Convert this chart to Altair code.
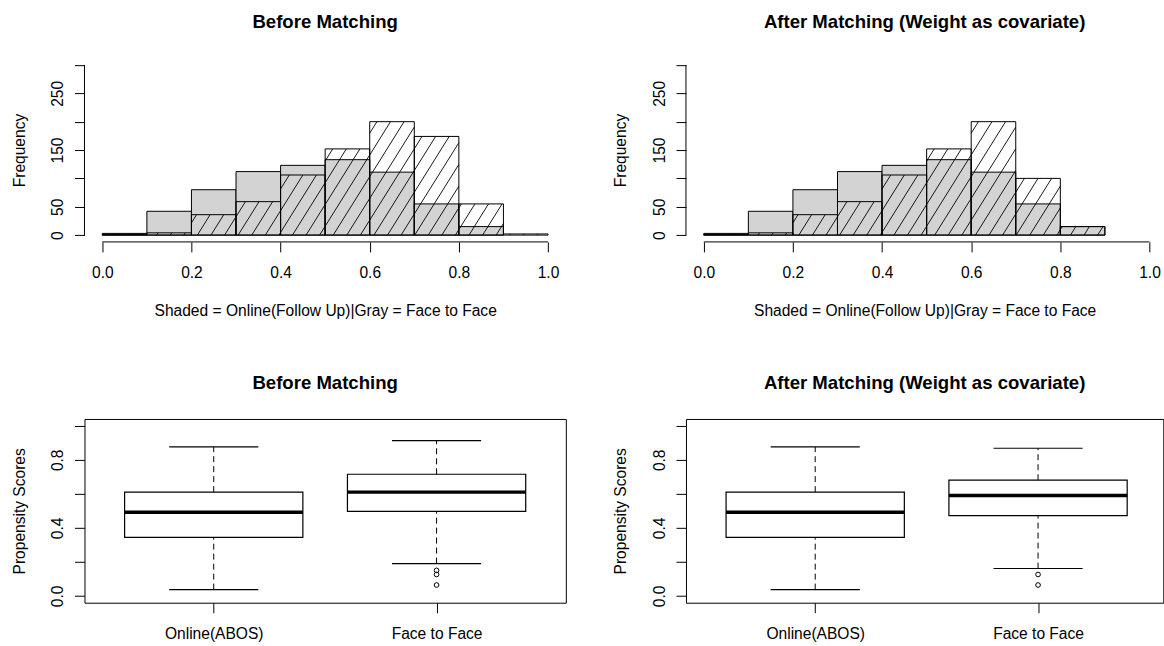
import numpy as np
import pandas as pd
import altair as alt

FONT = "Liberation Sans"

# ---------------- data ----------------
BIN_EDGES = [0.0, 0.1, 0.2, 0.3, 0.4, 0.5, 0.6, 0.7, 0.8, 0.9, 1.0]
GRAY_BEFORE = [3, 42, 80, 112, 123, 133, 111, 55, 15]
HATCH_BEFORE = [1, 4, 36, 59, 106, 152, 200, 174, 55, 2]
GRAY_AFTER = [3, 42, 80, 112, 123, 133, 111, 55, 15]
HATCH_AFTER = [1, 4, 36, 59, 106, 152, 200, 100, 15]

HIST_X_TICKS = [0.0, 0.2, 0.4, 0.6, 0.8, 1.0]
HIST_Y_TICKS = [0, 50, 100, 150, 200, 250, 300]
HIST_Y_LABELED = [0, 50, 150, 250]

GROUPS = ["Online(ABOS)", "Face to Face"]
# lower whisker, Q1, median, Q3, upper whisker
BOX_BEFORE_ONLINE = [0.037, 0.344, 0.491, 0.610, 0.876]
BOX_BEFORE_F2F = [0.190, 0.497, 0.610, 0.715, 0.913]
OUT_BEFORE_F2F = [0.150, 0.126, 0.064]
BOX_AFTER_ONLINE = [0.037, 0.344, 0.491, 0.610, 0.876]
BOX_AFTER_F2F = [0.161, 0.472, 0.590, 0.680, 0.868]
OUT_AFTER_F2F = [0.126, 0.064]

BOX_Y_TICKS = [0.0, 0.2, 0.4, 0.6, 0.8, 1.0]

# ---------------- layout / style constants ----------------
PANEL_W = 482
PANEL_W_RIGHT = 478
PANEL_H = 184
HIST_X_LO, HIST_X_HI = -0.04, 1.04
HIST_Y_LO, HIST_Y_HI = -12, 312
BOX_X_LO, BOX_X_HI = 0.42, 2.58
BOX_Y_LO, BOX_Y_HI = -0.04, 1.04
PX_X = PANEL_W / (HIST_X_HI - HIST_X_LO)
PX_Y = PANEL_H / (HIST_Y_HI - HIST_Y_LO)
BOX_PX_X = PANEL_W / (BOX_X_HI - BOX_X_LO)
HATCH_SLOPE = 1.6
HATCH_STEP = 13.6
GRAY = "#d3d3d3"
FS = 15.6
TITLE_FS = 18.6


def hatch_segments(lefts, rights, counts):
    rows = []
    S = HATCH_SLOPE
    for x0, x1, h in zip(lefts, rights, counts):
        if h <= 0:
            continue
        u0 = (x0 - HIST_X_LO) * PX_X
        u1 = (x1 - HIST_X_LO) * PX_X
        v0 = (0 - HIST_Y_LO) * PX_Y
        v1 = (h - HIST_Y_LO) * PX_Y
        kmin = int(np.floor((u0 - v1 / S) / HATCH_STEP)) - 1
        kmax = int(np.ceil((u1 - v0 / S) / HATCH_STEP)) + 1
        for k in range(kmin, kmax + 1):
            c = k * HATCH_STEP
            va = max(v0, (u0 - c) * S)
            vb = min(v1, (u1 - c) * S)
            if vb - va > 0.3:
                rows.append({
                    "x": (c + va / S) / PX_X + HIST_X_LO,
                    "y": va / PX_Y + HIST_Y_LO,
                    "x2": (c + vb / S) / PX_X + HIST_X_LO,
                    "y2": vb / PX_Y + HIST_Y_LO,
                })
    return pd.DataFrame(rows)


def title_params(text):
    return alt.TitleParams(text=text, anchor="middle", frame="group", baseline="alphabetic",
                           offset=11.5, fontSize=TITLE_FS, fontWeight="bold", font=FONT,
                           color="black")


def hist_panel(title, gray, hatch, width):
    x_hi = HIST_X_LO + width / PX_X
    xs = alt.Scale(domain=[HIST_X_LO, x_hi], nice=False, zero=False)
    ys = alt.Scale(domain=[HIST_Y_LO, HIST_Y_HI], nice=False, zero=False)
    xaxis = alt.Axis(values=HIST_X_TICKS, format=".1f",
                     title="Shaded = Online(Follow Up)|Gray = Face to Face",
                     domain=False, grid=False, tickSize=10, tickColor="black", tickWidth=1,
                     labelPadding=25.5, labelBaseline="alphabetic", labelFlush=False,
                     labelOverlap=False, titleBaseline="alphabetic", titleY=73.4,
                     titleFontWeight="normal")
    labeled = ",".join(str(v) for v in HIST_Y_LABELED)
    yaxis = alt.Axis(values=HIST_Y_TICKS, title="Frequency",
                     labelExpr=f"indexof([{labeled}], datum.value) >= 0 ? datum.label : ''",
                     domain=False, grid=False, tickSize=10, tickColor="black", tickWidth=1,
                     labelAngle=270, labelAlign="center", labelBaseline="alphabetic",
                     labelPadding=11.85, labelOverlap=False, labelFlush=False,
                     titleAngle=270, titleAlign="center", titleBaseline="alphabetic",
                     titleX=-60.3, titleY=PANEL_H / 2, titleFontWeight="normal")

    n_g = len(gray)
    n_h = len(hatch)
    gdf = pd.DataFrame({"left": BIN_EDGES[:n_g], "right": BIN_EDGES[1:n_g + 1],
                        "count": gray, "base": [0] * n_g})
    hdf = pd.DataFrame({"left": BIN_EDGES[:n_h], "right": BIN_EDGES[1:n_h + 1],
                        "count": hatch, "base": [0] * n_h})
    sdf = hatch_segments(hdf["left"], hdf["right"], hdf["count"])
    xline = pd.DataFrame({"x": [HIST_X_TICKS[0]], "x2": [HIST_X_TICKS[-1]], "y": [HIST_Y_LO]})
    yline = pd.DataFrame({"x": [HIST_X_LO], "y": [HIST_Y_TICKS[0]], "y2": [HIST_Y_TICKS[-1]]})

    gray_bars = alt.Chart(gdf).mark_rect(fill=GRAY, stroke="black", strokeWidth=1).encode(
        x=alt.X("left:Q", scale=xs, axis=xaxis), x2="right:Q",
        y=alt.Y("count:Q", scale=ys, axis=yaxis), y2="base:Q")
    hatch_lines = alt.Chart(sdf).mark_rule(color="black", strokeWidth=0.9).encode(
        x=alt.X("x:Q", scale=xs, axis=xaxis), x2="x2:Q",
        y=alt.Y("y:Q", scale=ys, axis=yaxis), y2="y2:Q")
    hatch_bars = alt.Chart(hdf).mark_rect(fill="white", fillOpacity=0, stroke="black",
                                          strokeWidth=1).encode(
        x=alt.X("left:Q", scale=xs, axis=xaxis), x2="right:Q",
        y=alt.Y("count:Q", scale=ys, axis=yaxis), y2="base:Q")
    x_axis_line = alt.Chart(xline).mark_rule(color="black", strokeWidth=1).encode(
        x=alt.X("x:Q", scale=xs, axis=xaxis), x2="x2:Q",
        y=alt.Y("y:Q", scale=ys, axis=yaxis))
    y_axis_line = alt.Chart(yline).mark_rule(color="black", strokeWidth=1).encode(
        x=alt.X("x:Q", scale=xs, axis=xaxis),
        y=alt.Y("y:Q", scale=ys, axis=yaxis), y2="y2:Q")

    return alt.layer(gray_bars, hatch_lines, hatch_bars, x_axis_line, y_axis_line).properties(
        width=width, height=PANEL_H, title=title_params(title),
        view=alt.ViewBackground(stroke="transparent"))


def box_panel(title, stats_list, outliers, width):
    x_hi = BOX_X_LO + width / BOX_PX_X
    xs = alt.Scale(domain=[BOX_X_LO, x_hi], nice=False, zero=False)
    ys = alt.Scale(domain=[BOX_Y_LO, BOX_Y_HI], nice=False, zero=False)
    xaxis = alt.Axis(values=[1, 2], title=None,
                     labelExpr=f"datum.value == 1 ? '{GROUPS[0]}' : '{GROUPS[1]}'",
                     domain=False, grid=False, tickSize=10, tickColor="black", tickWidth=1,
                     labelPadding=25.5, labelBaseline="alphabetic", labelFlush=False,
                     labelOverlap=False)
    yaxis = alt.Axis(values=BOX_Y_TICKS, title="Propensity Scores",
                     labelExpr="(datum.value == 0 || datum.value == 0.4 || datum.value == 0.8) ? format(datum.value, '.1f') : ''",
                     domain=False, grid=False, tickSize=10, tickColor="black", tickWidth=1,
                     labelAngle=270, labelAlign="center", labelBaseline="alphabetic",
                     labelPadding=11.85, labelOverlap=False, labelFlush=False,
                     titleAngle=270, titleAlign="center", titleBaseline="alphabetic",
                     titleX=-60.3, titleY=PANEL_H / 2, titleFontWeight="normal")

    rows = []
    for i, (g, st) in enumerate(zip(GROUPS, stats_list)):
        pos = i + 1
        rows.append({"group": g, "pos": pos, "lo": st[0], "q1": st[1], "med": st[2],
                     "q3": st[3], "hi": st[4]})
    bdf = pd.DataFrame(rows)
    bdf["bl"] = bdf["pos"] - 0.4
    bdf["br"] = bdf["pos"] + 0.4
    bdf["sl"] = bdf["pos"] - 0.2
    bdf["sr"] = bdf["pos"] + 0.2
    odf = pd.DataFrame({"pos": [2] * len(outliers), "val": outliers})

    X = lambda f: alt.X(f, scale=xs, axis=xaxis)
    Y = lambda f: alt.Y(f, scale=ys, axis=yaxis)

    wh_up = alt.Chart(bdf).mark_rule(color="black", strokeWidth=1, strokeDash=[6, 4]).encode(
        x=X("pos:Q"), y=Y("q3:Q"), y2="hi:Q")
    wh_dn = alt.Chart(bdf).mark_rule(color="black", strokeWidth=1, strokeDash=[6, 4]).encode(
        x=X("pos:Q"), y=Y("lo:Q"), y2="q1:Q")
    st_up = alt.Chart(bdf).mark_rule(color="black", strokeWidth=1.2).encode(
        x=X("sl:Q"), x2="sr:Q", y=Y("hi:Q"))
    st_dn = alt.Chart(bdf).mark_rule(color="black", strokeWidth=1.2).encode(
        x=X("sl:Q"), x2="sr:Q", y=Y("lo:Q"))
    boxes = alt.Chart(bdf).mark_rect(fill="white", stroke="black", strokeWidth=1.2).encode(
        x=X("bl:Q"), x2="br:Q", y=Y("q1:Q"), y2="q3:Q")
    meds = alt.Chart(bdf).mark_rule(color="black", strokeWidth=3.5).encode(
        x=X("bl:Q"), x2="br:Q", y=Y("med:Q"))
    outs = alt.Chart(odf).mark_point(shape="circle", filled=False, color="black", size=22,
                                     strokeWidth=1, opacity=1).encode(
        x=X("pos:Q"), y=Y("val:Q"))

    return alt.layer(wh_up, wh_dn, st_up, st_dn, boxes, meds, outs).properties(
        width=width, height=PANEL_H, title=title_params(title),
        view=alt.ViewBackground(stroke="black", strokeWidth=1))


h1 = hist_panel("Before Matching", GRAY_BEFORE, HATCH_BEFORE, PANEL_W)
h2 = hist_panel("After Matching (Weight as covariate)", GRAY_AFTER, HATCH_AFTER, PANEL_W_RIGHT)
b1 = box_panel("Before Matching", [BOX_BEFORE_ONLINE, BOX_BEFORE_F2F], OUT_BEFORE_F2F, PANEL_W)
b2 = box_panel("After Matching (Weight as covariate)", [BOX_AFTER_ONLINE, BOX_AFTER_F2F],
               OUT_AFTER_F2F, PANEL_W_RIGHT)

row1 = alt.hconcat(h1, h2, spacing=46.3)
row2 = alt.hconcat(b1, b2, spacing=46.3)

chart = alt.vconcat(row1, row2, spacing=53.3).properties(
    padding={"left": 11.6, "top": 11.8, "right": 0, "bottom": 0},
    background="white",
).configure_axis(
    labelFont=FONT, labelFontSize=FS, labelColor="black",
    titleFont=FONT, titleFontSize=FS, titleColor="black",
).configure_title(font=FONT)

chart.save("out.html", embed_options={"renderer": "svg", "actions": False})
